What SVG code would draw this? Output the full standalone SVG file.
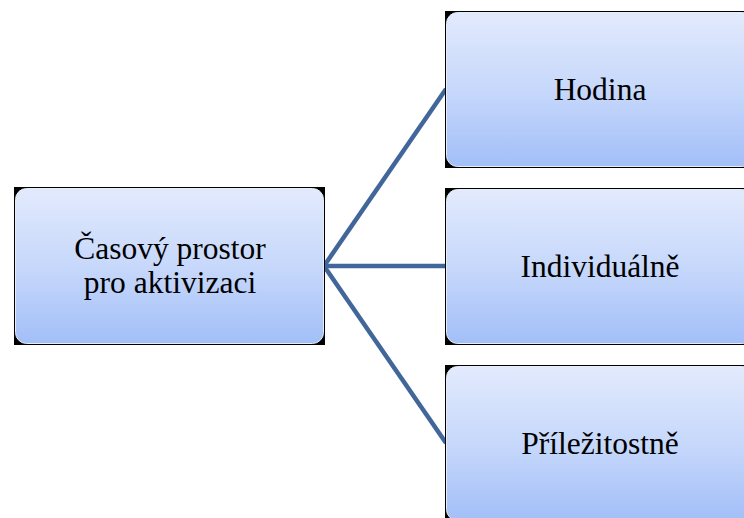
<svg xmlns="http://www.w3.org/2000/svg" width="744" height="518" viewBox="0 0 744 518">
  <defs>
    <linearGradient id="boxFill" x1="0" y1="0" x2="0" y2="1">
      <stop offset="0" stop-color="#e2eafd"/>
      <stop offset="0.5" stop-color="#c7d8fb"/>
      <stop offset="1" stop-color="#a2bff8"/>
    </linearGradient>
  </defs>
  <style>
    .back { fill: #000000; }
    .box { fill: url(#boxFill); stroke: #e8ecf4; stroke-width: 1; }
    .label { font-family: "Liberation Serif", "Times New Roman", serif; font-size: 31.5px; fill: #000000; text-anchor: middle; }
    .link { stroke: #41679a; stroke-width: 4.5; fill: none; stroke-linecap: butt; }
  </style>
  <rect width="744" height="518" fill="#ffffff"/>

  <!-- connectors from the root to each child -->
  <g id="connectors">
    <line class="link" x1="324" y1="266" x2="446" y2="89"/>
    <line class="link" x1="324" y1="266" x2="446" y2="266"/>
    <line class="link" x1="324" y1="266" x2="446" y2="443"/>
  </g>

  <!-- root node -->
  <g id="node-root">
    <rect class="back" x="14" y="187" width="311" height="158"/>
    <rect class="box" x="15.5" y="188.5" width="308" height="155" rx="11"/>
    <text class="label" x="170" y="259">Časový prostor</text>
    <text class="label" x="170" y="293">pro aktivizaci</text>
  </g>

  <!-- child nodes -->
  <g id="node-hodina">
    <rect class="back" x="445" y="11" width="310" height="157"/>
    <rect class="box" x="446.5" y="12.5" width="307" height="154" rx="11"/>
    <text class="label" x="600" y="100">Hodina</text>
  </g>

  <g id="node-individualne">
    <rect class="back" x="445" y="188" width="310" height="157"/>
    <rect class="box" x="446.5" y="189.5" width="307" height="154" rx="11"/>
    <text class="label" x="600" y="277">Individuálně</text>
  </g>

  <g id="node-prilezitostne">
    <rect class="back" x="445" y="365" width="310" height="157"/>
    <rect class="box" x="446.5" y="366.5" width="307" height="154" rx="11"/>
    <text class="label" x="600" y="454">Příležitostně</text>
  </g>
</svg>
